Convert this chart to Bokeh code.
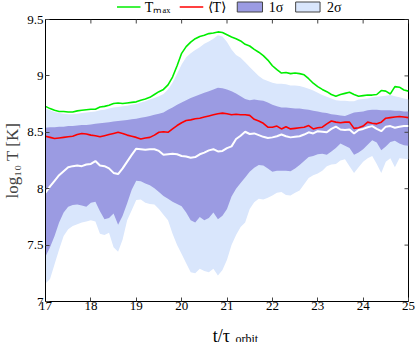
import numpy as np
from bokeh.plotting import figure
from bokeh.layouts import column
from bokeh.models import ColumnDataSource, FixedTicker, Range1d
from bokeh.core.properties import value
from bokeh.embed import file_html
from bokeh.resources import INLINE

t = [17.0 + 0.1 * i for i in range(81)]

t_max = [8.73, 8.71, 8.695, 8.685, 8.685, 8.68, 8.68, 8.69, 8.695, 8.70,
         8.705, 8.705, 8.725, 8.73, 8.74, 8.755, 8.76, 8.755, 8.76, 8.765,
         8.77, 8.785, 8.795, 8.81, 8.835, 8.86, 8.88, 8.92, 8.99, 9.09,
         9.20, 9.26, 9.30, 9.33, 9.35, 9.36, 9.375, 9.38, 9.39, 9.385,
         9.365, 9.345, 9.33, 9.31, 9.28, 9.265, 9.235, 9.21, 9.18, 9.14,
         9.09, 9.055, 9.025, 9.03, 9.02, 9.025, 9.02, 9.01, 8.975, 8.935,
         8.905, 8.88, 8.86, 8.835, 8.82, 8.835, 8.845, 8.855, 8.835, 8.82,
         8.825, 8.83, 8.83, 8.835, 8.87, 8.865, 8.84, 8.905, 8.90, 8.875,
         8.865]

t_mean = [8.465, 8.455, 8.445, 8.45, 8.455, 8.46, 8.465, 8.48, 8.49, 8.485,
          8.475, 8.47, 8.46, 8.47, 8.48, 8.49, 8.50, 8.49, 8.475, 8.465,
          8.455, 8.44, 8.45, 8.455, 8.475, 8.50, 8.505, 8.50, 8.53, 8.56,
          8.585, 8.605, 8.61, 8.62, 8.625, 8.635, 8.645, 8.655, 8.665, 8.67,
          8.665, 8.655, 8.66, 8.655, 8.655, 8.65, 8.615, 8.60, 8.58, 8.545,
          8.545, 8.555, 8.53, 8.55, 8.53, 8.535, 8.54, 8.545, 8.56, 8.53,
          8.54, 8.545, 8.575, 8.60, 8.59, 8.585, 8.59, 8.59, 8.535, 8.54,
          8.555, 8.59, 8.58, 8.575, 8.59, 8.625, 8.63, 8.635, 8.64, 8.635,
          8.63]

t_median = [7.965, 8.02, 8.07, 8.12, 8.155, 8.19, 8.20, 8.205, 8.20, 8.215,
            8.22, 8.245, 8.205, 8.20, 8.18, 8.14, 8.13, 8.18, 8.24, 8.30,
            8.355, 8.35, 8.345, 8.35, 8.35, 8.335, 8.30, 8.305, 8.31, 8.305,
            8.29, 8.285, 8.275, 8.28, 8.305, 8.32, 8.34, 8.35, 8.33, 8.335,
            8.36, 8.375, 8.44, 8.47, 8.505, 8.485, 8.49, 8.475, 8.46, 8.45,
            8.455, 8.465, 8.48, 8.465, 8.455, 8.46, 8.465, 8.48, 8.50, 8.49,
            8.51, 8.505, 8.50, 8.53, 8.55, 8.525, 8.52, 8.525, 8.49, 8.52,
            8.53, 8.545, 8.555, 8.53, 8.51, 8.55, 8.555, 8.54, 8.55, 8.555,
            8.555]

sig1_hi = [8.54, 8.545, 8.545, 8.55, 8.55, 8.555, 8.555, 8.56, 8.565, 8.565,
           8.57, 8.575, 8.58, 8.585, 8.59, 8.595, 8.60, 8.605, 8.61, 8.615,
           8.62, 8.63, 8.635, 8.645, 8.655, 8.665, 8.675, 8.70, 8.72, 8.745,
           8.765, 8.785, 8.805, 8.82, 8.835, 8.85, 8.865, 8.88, 8.895, 8.89,
           8.88, 8.865, 8.845, 8.82, 8.795, 8.785, 8.79, 8.785, 8.78, 8.765,
           8.745, 8.73, 8.72, 8.72, 8.715, 8.71, 8.71, 8.705, 8.70, 8.69,
           8.685, 8.675, 8.67, 8.66, 8.655, 8.65, 8.645, 8.66, 8.675, 8.68,
           8.685, 8.695, 8.70, 8.70, 8.695, 8.695, 8.695, 8.69, 8.69, 8.685,
           8.685]

sig1_lo = [7.40, 7.48, 7.58, 7.70, 7.79, 7.84, 7.855, 7.86, 7.85, 7.84,
           7.875, 7.885, 7.80, 7.73, 7.74, 7.78, 7.68, 7.76, 7.87, 7.99,
           8.07, 8.065, 8.045, 8.03, 8.005, 7.97, 7.935, 7.91, 7.885, 7.865,
           7.845, 7.79, 7.72, 7.70, 7.75, 7.72, 7.74, 7.79, 7.73, 7.76,
           7.82, 7.93, 8.00, 8.05, 8.10, 8.15, 8.185, 8.21, 8.205, 8.18,
           8.15, 8.16, 8.16, 8.16, 8.155, 8.18, 8.21, 8.245, 8.28, 8.29,
           8.305, 8.31, 8.30, 8.33, 8.36, 8.40, 8.38, 8.36, 8.30, 8.32,
           8.35, 8.39, 8.43, 8.41, 8.34, 8.375, 8.415, 8.425, 8.40, 8.385,
           8.38]

sig2_hi = [8.71, 8.695, 8.68, 8.67, 8.665, 8.66, 8.66, 8.665, 8.67, 8.675,
           8.68, 8.685, 8.695, 8.70, 8.71, 8.72, 8.725, 8.73, 8.735, 8.745,
           8.75, 8.765, 8.775, 8.79, 8.805, 8.82, 8.84, 8.88, 8.94, 9.02,
           9.10, 9.165, 9.20, 9.23, 9.255, 9.285, 9.305, 9.33, 9.36, 9.35,
           9.30, 9.235, 9.185, 9.16, 9.12, 9.08, 9.04, 9.00, 8.97, 8.955,
           8.94, 8.93, 8.93, 8.925, 8.915, 8.915, 8.91, 8.90, 8.885, 8.87,
           8.85, 8.83, 8.815, 8.80, 8.785, 8.78, 8.78, 8.775, 8.775, 8.79,
           8.795, 8.80, 8.81, 8.815, 8.82, 8.825, 8.83, 8.82, 8.81, 8.80,
           8.79]

sig2_lo = [7.16, 7.20, 7.33, 7.46, 7.58, 7.64, 7.67, 7.685, 7.70, 7.71,
           7.72, 7.71, 7.60, 7.59, 7.61, 7.48, 7.44, 7.55, 7.72, 7.81,
           7.90, 7.905, 7.875, 7.865, 7.86, 7.82, 7.77, 7.72, 7.60, 7.50,
           7.42, 7.34, 7.26, 7.25, 7.29, 7.27, 7.26, 7.29, 7.23, 7.28,
           7.37, 7.50, 7.59, 7.66, 7.70, 7.82, 7.88, 7.91, 7.905, 7.92,
           7.94, 7.965, 7.97, 7.945, 7.94, 7.965, 7.985, 8.04, 8.095, 8.12,
           8.135, 8.16, 8.20, 8.215, 8.22, 8.25, 8.26, 8.20, 8.14, 8.19,
           8.24, 8.27, 8.29, 8.22, 8.14, 8.24, 8.27, 8.19, 8.27, 8.265,
           8.26]

x_ticks = [17, 18, 19, 20, 21, 22, 23, 24, 25]
y_ticks = [7.0, 7.5, 8.0, 8.5, 9.0, 9.5]
y_tick_labels = ["7", "7.5", "8", "8.5", "9", "9.5"]
legend_labels = ["T\u2098\u2090\u2093", "\u27e8T\u27e9", "1\u03c3", "2\u03c3"]

SERIF = "Liberation Serif"
C_GREEN = "#00ee00"
C_RED = "#ff0000"
C_S1 = "#9b9be2"
C_S2 = "#d9e6fc"

X0, X1 = 17, 25
Y0, Y1 = 7, 9.5
W = 405

def strip(h):
    f = figure(output_backend="svg", toolbar_location=None, width=W, height=h,
               min_border=0, title=None, x_axis_location=None, y_axis_location=None,
               x_range=Range1d(0, W), y_range=Range1d(0, h))
    f.grid.visible = False
    f.outline_line_color = None
    return f

# ---- legend strip (top), pixel-space layout ----
LH = 13
leg = strip(LH)
GW = 27            # swatch width
item_x = [82, 154, 220, 287]   # left edge of each swatch
mid = 6.5
leg.segment(x0=item_x[0], y0=mid, x1=item_x[0] + GW, y1=mid, line_color=C_GREEN, line_width=1.6)
leg.segment(x0=item_x[1], y0=mid, x1=item_x[1] + GW, y1=mid, line_color=C_RED, line_width=1.6)
leg.quad(left=[item_x[2], item_x[3]], right=[item_x[2] + GW + 2, item_x[3] + GW + 1],
         bottom=[1.5, 1.5], top=[11.5, 11.5], fill_color=[C_S1, C_S2],
         line_color="#444444", line_width=1)
leg.text(x=[x + GW + 5 + (4 if i >= 2 else 0) for i, x in enumerate(item_x)], y=[mid] * 4,
         text=legend_labels, text_font=value(SERIF), text_font_size="14px",
         text_baseline="middle", text_align="left", text_color="black")

# ---- main plot ----
src = ColumnDataSource(dict(t=t, tmax=t_max, tmean=t_mean, tmed=t_median,
                            s1hi=sig1_hi, s1lo=sig1_lo, s2hi=sig2_hi, s2lo=sig2_lo))

FW, FH = 363, 282
p = figure(output_backend="svg", toolbar_location=None, title=None,
           frame_width=FW, frame_height=FH,
           min_border_left=35, min_border_right=7, min_border_top=6, min_border_bottom=17,
           x_range=Range1d(X0, X1), y_range=Range1d(Y0, Y1),
           background_fill_color="white", border_fill_color="white")
p.grid.visible = False
p.outline_line_color = "black"
p.outline_line_width = 1

p.varea(x="t", y1="s2lo", y2="s2hi", source=src, fill_color=C_S2)
p.varea(x="t", y1="s1lo", y2="s1hi", source=src, fill_color=C_S1)
p.line(x="t", y="tmax", source=src, line_color=C_GREEN, line_width=1.6)
p.line(x="t", y="tmean", source=src, line_color=C_RED, line_width=1.6)
p.line(x="t", y="tmed", source=src, line_color="white", line_width=2)

# inward tick marks on the top and right edges (mirror of bottom / left ticks)
p.ray(x=x_ticks, y=[Y1] * len(x_ticks), length=4, length_units="screen",
      angle=-90, angle_units="deg", line_color="#444444", line_width=1)
p.ray(x=[X1] * len(y_ticks), y=y_ticks, length=4, length_units="screen",
      angle=180, angle_units="deg", line_color="#444444", line_width=1)

yt_overrides = {str(v).rstrip("0").rstrip("."): lab for v, lab in zip(y_ticks, y_tick_labels)}

xa = p.xaxis[0]
ya = p.yaxis[0]
xa.ticker = FixedTicker(ticks=x_ticks)
ya.ticker = FixedTicker(ticks=y_ticks)
ya.major_label_overrides = yt_overrides
for ax in (xa, ya):
    ax.major_tick_in = 4
    ax.major_tick_out = 0
    ax.minor_tick_line_color = None
    ax.axis_line_color = "black"
    ax.major_tick_line_color = "#444444"
    ax.major_label_text_font = SERIF
    ax.major_label_text_font_size = "13px"
    ax.major_label_text_color = "black"
    ax.major_label_standoff = 2
xa.major_label_standoff = 0
ya.axis_label = "log\u2081\u2080 T [K]"
ya.axis_label_text_font = SERIF
ya.axis_label_text_font_style = "normal"
ya.axis_label_text_font_size = "17px"
ya.axis_label_standoff = 2

# ---- x-axis title strip (bottom): "t/tau" with subscript "orbit" ----
BH = 24
bot = strip(BH)
bot.text(x=[192], y=[7], text=["t/\u03c4"], text_font=value(SERIF), text_font_size="18px",
         text_baseline="alphabetic", text_align="left", text_color="black")
bot.text(x=[218], y=[4], text=["orbit"], text_font=value(SERIF), text_font_size="12px",
         text_baseline="alphabetic", text_align="left", text_color="black")

layout = column(leg, p, bot, spacing=0)
open("out.html", "w").write(file_html(layout, INLINE))
